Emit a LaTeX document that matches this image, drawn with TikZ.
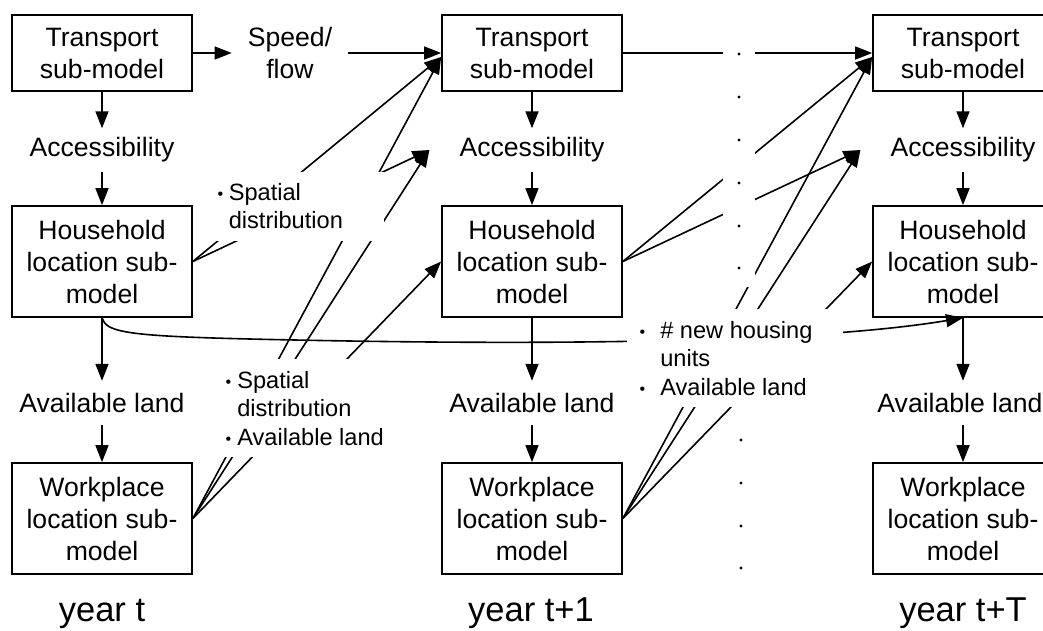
\documentclass[tikz,border=0pt]{standalone}
\usepackage{fontspec}
\setmainfont{Liberation Sans}
\usetikzlibrary{arrows.meta,calc}
\newcommand\boxfnt{\fontsize{26.6}{32}\selectfont}
\newcommand\lblfnt{\fontsize{23.6}{28.5}\selectfont}
\newcommand\yrfnt{\fontsize{34.5}{40}\selectfont}
\newcommand\bul{{\fontsize{16}{16}\selectfont\raisebox{1pt}{\textbullet}}}
\begin{document}
\begin{tikzpicture}[x=1pt,y=-1pt,
  box/.style={draw, line width=1.7pt, minimum width=180pt, inner sep=0pt, align=center, font=\boxfnt},
  tbox/.style={box, minimum height=76pt},
  lbox/.style={box, minimum height=111pt},
  mid/.style={inner sep=0pt, font=\boxfnt},
  arr/.style={line width=1.6pt, -{Triangle[length=17pt,width=13pt]}},
  mask/.style={fill=white, inner sep=0pt, anchor=north west},
  lbl/.style={inner sep=0pt, font=\lblfnt, anchor=base west},
  yr/.style={font=\yrfnt, anchor=base, inner sep=0pt},
  dotmark/.style={circle, fill=black, inner sep=0pt, minimum size=3.4pt}]
\useasboundingbox (0,0) rectangle (1043,630);

% columns
\foreach \c/\x/\xv in {1/102/102,2/532/532,3/963/960}{
  \node[tbox] (t\c) at (\x,53) {Transport\\sub-model};
  \node[mid, minimum height=43pt] (a\c) at (\x,150) {Accessibility};
  \node[lbox] (h\c) at (\x,261.5) {Household\\location sub-\\model};
  \node[mid, minimum height=44pt] (v\c) at (\xv,403) {Available land};
  \node[lbox] (w\c) at (\x,518.5) {Workplace\\location sub-\\model};
  \draw[arr] (t\c.south) -- (a\c.north);
  \draw[arr] (a\c.south) -- (h\c.north);
  \draw[arr] (h\c.south) -- (h\c.south |- v\c.north);
  \draw[arr] (w\c.north |- v\c.south) -- (w\c.north);
}

\node[yr] (y1) at (102,621) {year t};
\node[yr] (y2) at (531,621) {year t+1};
\node[yr] (y3) at (963,621) {year t+T};

% speed / flow
\node[font=\boxfnt, align=center, inner xsep=16pt, inner ysep=0pt] (sf) at (290,53) {Speed/\\flow};
\draw[arr] (t1.east) -- (sf.west);
\draw[arr] (sf.east) -- (t2.west);
\draw[arr] (t2.east) -- (t3.west);

% targets
\coordinate (t2in) at ($(t2.west)+(0,4)$);
\coordinate (t3in) at ($(t3.west)+(0,4)$);
\coordinate (a2in) at ($(a2.west)+(-30,0)$);
\coordinate (a3in) at ($(a3.west)+(-30,0)$);

% year t -> t+1
\draw[arr] (h1.east) -- (t2in);
\draw[arr] (h1.east) -- (a2in);
\draw[arr] (w1.east) -- (t2in);
\draw[arr] (w1.east) -- (a2in);
\draw[arr] (w1.east) -- (h2.west);
% year t+1 -> t+T
\draw[arr] (h2.east) -- (t3in);
\draw[arr] (h2.east) -- (a3in);
\draw[arr] (w2.east) -- (t3in);
\draw[arr] (w2.east) -- (a3in);
\draw[arr] (w2.east) -- (h3.west);

% long curve
\draw[arr] (h1.south) .. controls (106,332) and (125,336) .. (250,339)
  .. controls (500,345) and (800,345) .. (h3.south);

% white masks behind labels
\node[mask, minimum width=170pt, minimum height=69pt] (m1) at (214,172) {};
\node[mask, minimum width=178pt, minimum height=98pt] (m2) at (214,359) {};
\node[mask, minimum width=216pt, minimum height=98pt] (m3) at (627,309) {};
\node[mask, minimum width=32pt, minimum height=252pt] (m4) at (723,35) {};

% dots
\foreach \yy in {54,97,140,183,226,268}{\node[dotmark] (du\yy) at (739,\yy) {};}
\foreach \yy in {440,483,526,568}{\node[dotmark] (dl\yy) at (741,\yy) {};}

% labels
\node[lbl] (sd1) at (217.5,200) {\begin{tabular}[t]{@{}l@{\hspace{5.5pt}}l@{}}\bul & Spatial\\ & distribution\end{tabular}};
\node[lbl] (sd2) at (225.5,388) {\begin{tabular}[t]{@{}l@{\hspace{6pt}}l@{}}\bul & Spatial\\ & distribution\\ \bul & Available land\end{tabular}};
\node[lbl] (nh) at (639.5,338) {\begin{tabular}[t]{@{}l@{\hspace{15pt}}l@{}}\bul & \# new housing\\ & units\\ \bul & Available land\end{tabular}};
\end{tikzpicture}
\end{document}
